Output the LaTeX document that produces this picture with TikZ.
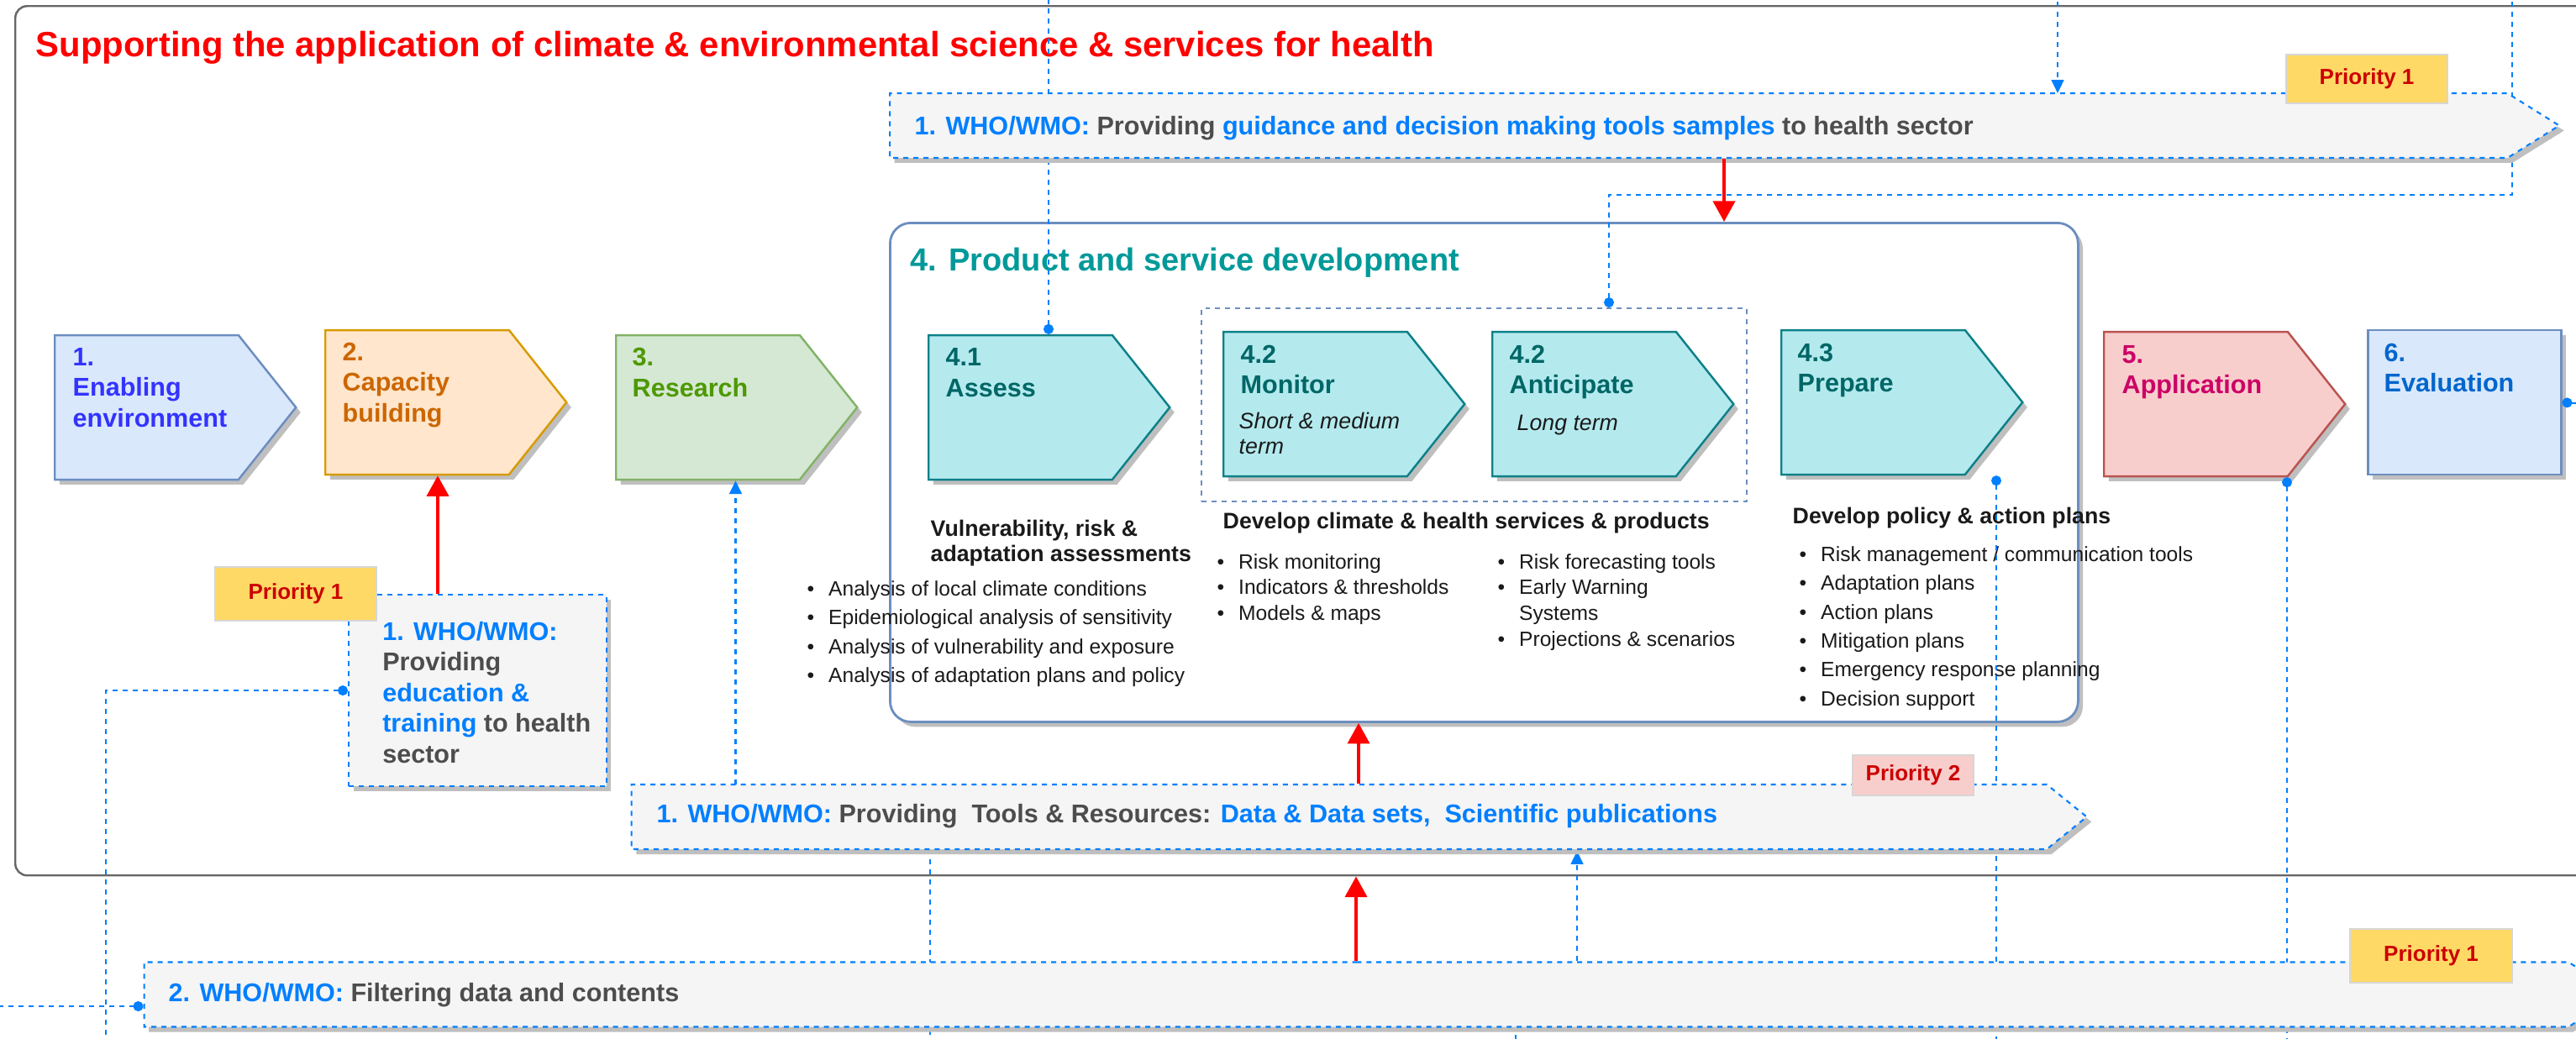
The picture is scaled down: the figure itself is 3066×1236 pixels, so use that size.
\documentclass[tikz,border=0pt]{standalone}
\usepackage{fontspec}
\setmainfont{Liberation Sans}
\usepackage{tikz}
\usetikzlibrary{shapes.symbols,shadows,arrows.meta}
\definecolor{titlered}{RGB}{255,0,0}
\definecolor{whoblue}{RGB}{0,127,255}
\definecolor{bandgray}{RGB}{245,245,245}
\definecolor{textgray}{RGB}{77,77,77}
\definecolor{framegray}{RGB}{102,102,102}
\definecolor{darktext}{RGB}{26,26,26}
\definecolor{enabfill}{RGB}{218,232,252}
\definecolor{enabline}{RGB}{108,142,191}
\definecolor{enabtext}{RGB}{51,51,255}
\definecolor{capafill}{RGB}{255,230,204}
\definecolor{capaline}{RGB}{215,155,0}
\definecolor{capatext}{RGB}{204,102,0}
\definecolor{resefill}{RGB}{213,232,212}
\definecolor{reseline}{RGB}{130,179,102}
\definecolor{resetext}{RGB}{77,153,0}
\definecolor{prodfill}{RGB}{180,234,238}
\definecolor{prodline}{RGB}{14,128,136}
\definecolor{prodtext}{RGB}{0,102,102}
\definecolor{prodtitle}{RGB}{0,153,153}
\definecolor{applfill}{RGB}{248,206,204}
\definecolor{applline}{RGB}{184,84,80}
\definecolor{appltext}{RGB}{204,0,102}
\definecolor{evaltext}{RGB}{0,102,204}
\definecolor{priogold}{RGB}{255,217,102}
\definecolor{prioline}{RGB}{214,214,214}
\definecolor{priotext}{RGB}{204,0,0}
\tikzset{
  shadowed/.style={drop shadow={shadow xshift=1.6pt, shadow yshift=-1.7pt, opacity=1, fill=black!25}},
  stepbox/.style={signal, signal to=east, signal from=nowhere, signal pointer angle=103,
    minimum width=28.7mm, minimum height=17.2mm, inner sep=0pt, anchor=west, line width=0.7pt, shadowed},
  steplabel/.style={anchor=base west, align=left, inner sep=0pt, font=\fontsize{8.7}{10.35}\selectfont\bfseries},
  termlabel/.style={anchor=base west, align=left, inner sep=0pt, text=darktext, font=\fontsize{7.6}{8.65}\selectfont\itshape},
  headlabel/.style={anchor=base west, align=left, inner sep=0pt, text=darktext, font=\fontsize{7.6}{8.5}\selectfont\bfseries},
  listlabel/.style={anchor=base west, inner sep=0pt, text=darktext},
  band/.style={signal, signal to=east, signal from=nowhere, minimum height=7.7mm, inner sep=0pt, anchor=west,
    fill=bandgray, draw=whoblue, line width=0.6pt, dash pattern=on 1.7pt off 1.7pt, shadowed},
  bandtext/.style={anchor=base west, inner sep=0pt, text=textgray, font=\fontsize{8.7}{10.35}\selectfont\bfseries},
  prio/.style={draw=prioline, line width=0.8pt, fill=priogold, text=priotext, inner sep=0pt, font=\fontsize{7.4}{9}\selectfont\bfseries},
  link/.style={draw=whoblue, line width=0.6pt, dash pattern=on 1.7pt off 1.7pt},
  redarrow/.style={draw=titlered, line width=1.1pt, -{Triangle[length=7pt,width=7.4pt]}}
}
\begin{document}
\begin{tikzpicture}[x=0.1mm, y=-0.1mm]
\useasboundingbox (0,0) rectangle (3066,1236);
\clip (0,0) rectangle (3066,1236);
\node[draw=framegray, line width=0.7pt, rounded corners=4pt, minimum width=306.3mm, minimum height=103.5mm, anchor=north west, inner sep=0pt] (frame) at (17,6) {};
\node[anchor=base west, inner sep=0pt, text=titlered, font=\fontsize{11.9}{14}\selectfont\bfseries] (title) at (42,67) {Supporting the application of climate \& environmental science \& services for health};

\node[draw=enabline, fill=white, line width=0.8pt, rounded corners=7pt, minimum width=141.4mm, minimum height=59.4mm, anchor=north west, inner sep=0pt, shadowed] (prodbox) at (1058,264) {};
\node[anchor=base west, inner sep=0pt, text=prodtitle, font=\fontsize{10.8}{13}\selectfont\bfseries] (prodlab) at (1083,322) {4. Product and service development};
\node[draw=enabline, line width=0.6pt, dash pattern=on 1.7pt off 1.7pt, minimum width=64.9mm, minimum height=23mm, anchor=north west, inner sep=0pt] (grp) at (1429,366) {};

\node[stepbox, fill=enabfill, draw=enabline] (enab) at (64,485) {};
\node[stepbox, fill=capafill, draw=capaline] (capa) at (386,479) {};
\node[stepbox, fill=resefill, draw=reseline] (rese) at (732,485) {};
\node[stepbox, fill=prodfill, draw=prodline] (asse) at (1104,485) {};
\node[stepbox, fill=prodfill, draw=prodline] (moni) at (1455,481) {};
\node[stepbox, fill=prodfill, draw=prodline] (anti) at (1775,481) {};
\node[stepbox, fill=prodfill, draw=prodline] (prep) at (2119,479) {};
\node[stepbox, fill=applfill, draw=applline] (appl) at (2503,481) {};
\node[draw=enabline, fill=enabfill, line width=0.7pt, minimum width=23mm, minimum height=17.2mm, anchor=west, inner sep=0pt, shadowed] (eval) at (2817,479) {};

\node[steplabel, text=enabtext] (enablab) at (86,508) {1.\\Enabling\\environment};
\node[steplabel, text=capatext] (capalab) at (407,502) {2.\\Capacity\\building};
\node[steplabel, text=resetext] (reselab) at (752,472) {3.\\Research};
\node[steplabel, text=prodtext] (asselab) at (1125,472) {4.1\\Assess};
\node[steplabel, text=prodtext] (monilab) at (1476,468.6) {4.2\\Monitor};
\node[steplabel, text=prodtext] (antilab) at (1796,468.6) {4.2\\Anticipate};
\node[steplabel, text=prodtext] (preplab) at (2139,466.6) {4.3\\Prepare};
\node[steplabel, text=appltext] (appllab) at (2525,468.6) {5.\\Application};
\node[steplabel, text=evaltext] (evallab) at (2837,466.6) {6.\\Evaluation};
\node[termlabel] (moniterm) at (1474,540.5) {Short \& medium\\term};
\node[termlabel] (antiterm) at (1805,512) {Long term};

\node[headlabel] (assehead) at (1107,668.7) {Vulnerability, risk \&\\adaptation assessments};
\node[listlabel, font=\fontsize{7}{9.8}\selectfont] (asselist) at (960,709.5) {\begin{tabular}[t]{@{}l@{\hspace{4.8pt}}l@{}}
\textbullet & Analysis of local climate conditions\\
\textbullet & Epidemiological analysis of sensitivity\\
\textbullet & Analysis of vulnerability and exposure\\
\textbullet & Analysis of adaptation plans and policy
\end{tabular}};
\node[headlabel] (monihead) at (1455,629) {Develop climate \& health services \& products};
\node[listlabel, font=\fontsize{7}{8.8}\selectfont] (monilist) at (1448,677) {\begin{tabular}[t]{@{}l@{\hspace{4.8pt}}l@{}}
\textbullet & Risk monitoring\\
\textbullet & Indicators \& thresholds\\
\textbullet & Models \& maps
\end{tabular}};
\node[listlabel, font=\fontsize{7}{8.8}\selectfont] (antilist) at (1782,677) {\begin{tabular}[t]{@{}l@{\hspace{4.8pt}}l@{}}
\textbullet & Risk forecasting tools\\
\textbullet & Early Warning\\
 & Systems\\
\textbullet & Projections \& scenarios
\end{tabular}};
\node[headlabel] (prephead) at (2133,623) {Develop policy \& action plans};
\node[listlabel, font=\fontsize{7}{9.75}\selectfont] (preplist) at (2141,668.7) {\begin{tabular}[t]{@{}l@{\hspace{4.8pt}}l@{}}
\textbullet & Risk management / communication tools\\
\textbullet & Adaptation plans\\
\textbullet & Action plans\\
\textbullet & Mitigation plans\\
\textbullet & Emergency response planning\\
\textbullet & Decision support
\end{tabular}};

\coordinate (asseup) at (1248,-10);
\coordinate (topin) at (2449,-10);
\coordinate (grpup) at (2990,-10);
\coordinate (grpturn) at (1915,232);
\coordinate (edout) at (126,1250);
\coordinate (midout) at (1106.6,1250);
\coordinate (dataup) at (1804,1250);
\coordinate (dataturn) at (1877,1180);
\coordinate (prepout) at (2376,1250);
\coordinate (applout) at (2722,1250);
\coordinate (evalout) at (3080,481);
\coordinate (filtout) at (-10,1198);

\draw[link, {Circle[length=3.4pt]}-] (asse.north -| asseup) -- (asseup);
\draw[link, -{Triangle[length=4.5pt,width=4.2pt]}] (topin) -- (2449,111);
\draw[link, -{Circle[length=3.4pt]}] (grpup) |- (grpturn) -- (grp.north -| grpturn);
\draw[link, -{Triangle[length=4.5pt,width=4.2pt]}] (875.5,934) -- (rese.south -| 875.5,0);
\draw[link] (1106.6,1011) -- (midout);
\draw[link, -{Triangle[length=4.5pt,width=4.2pt]}] (dataup) |- (dataturn) -- (1877,1013);
\draw[link, {Circle[length=3.4pt]}-] (prep.south -| prepout) -- (prepout);
\draw[link, {Circle[length=3.4pt]}-] (appl.south -| applout) -- (applout);
\draw[link, {Circle[length=3.4pt]}-] (eval.east) -- (evalout);

\node[band, minimum width=198.7mm, signal pointer angle=64] (topband) at (1058,149.5) {};
\node[bandtext] (toplab) at (1088,160) {\textcolor{whoblue}{1. WHO/WMO:} Providing \textcolor{whoblue}{guidance and decision making tools samples} to health sector};
\node[band, minimum width=173.2mm, signal pointer angle=78] (midband) at (750.6,972.5) {};
\node[bandtext] (midlab) at (781,979.5) {\textcolor{whoblue}{1. WHO/WMO:} Providing\ \ Tools \& Resources: \textcolor{whoblue}{Data \& Data sets,\ \ Scientific publications}};
\node[band, minimum width=294.6mm, signal pointer angle=65] (filtband) at (170.5,1184) {};
\node[bandtext] (filtlab) at (200,1192) {\textcolor{whoblue}{2. WHO/WMO:} Filtering data and contents};
\node[draw=whoblue, fill=bandgray, line width=0.6pt, dash pattern=on 1.7pt off 1.7pt, minimum width=30.65mm, minimum height=22.8mm, anchor=north west, inner sep=0pt, shadowed] (edbox) at (414,707) {};
\node[bandtext, align=left] (edlab) at (454.6,908) {\textcolor{whoblue}{1. WHO/WMO:}\\Providing\\\textcolor{whoblue}{education \&}\\\textcolor{whoblue}{training} to health\\sector};

\draw[link, {Circle[length=3.4pt]}-] (edbox.west) -| (edout);
\draw[link, {Circle[length=3.4pt]}-] (filtband.west |- filtout) -- (filtout);

\draw[redarrow] (topband.south -| 2052,0) -- (prodbox.north -| 2052,0);
\draw[redarrow] (edbox.north -| 521,0) -- (capa.south -| 521,0);
\draw[redarrow] (midband.north -| 1617,0) -- (prodbox.south -| 1617,0);
\draw[redarrow] (filtband.north -| 1614,0) -- (frame.south -| 1614,0);

\node[prio, minimum width=19.2mm, minimum height=5.8mm] (prioguide) at (2817,94) {Priority 1};
\node[prio, minimum width=19.2mm, minimum height=6.4mm] (prioedu) at (352,707) {Priority 1};
\node[prio, fill=applfill, minimum width=14.4mm, minimum height=4.8mm] (priotools) at (2277,923) {Priority 2};
\node[prio, minimum width=19.3mm, minimum height=6.4mm] (priofilt) at (2893.5,1138) {Priority 1};
\end{tikzpicture}
\end{document}
